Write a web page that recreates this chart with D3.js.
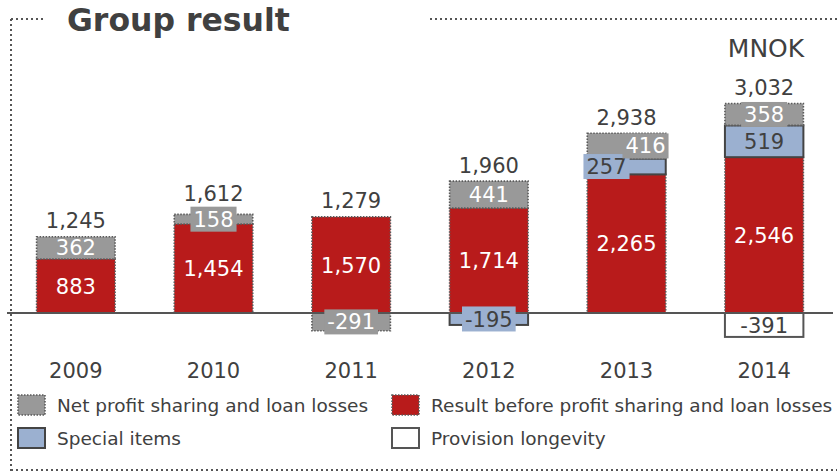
<!DOCTYPE html>
<html>
<head>
<meta charset="utf-8">
<script src="https://cdn.jsdelivr.net/npm/d3@7/dist/d3.min.js"></script>
<style>
  html, body { margin: 0; padding: 0; background: #fff; }
  svg { display: block; font-family: "DejaVu Sans", Verdana, sans-serif; }
</style>
</head>
<body>
<svg id="chart" width="837" height="473"></svg>
<script>
// Group result, MNOK
const years = ["2009", "2010", "2011", "2012", "2013", "2014"];
const resultBefore = [883, 1454, 1570, 1714, 2265, 2546];   // Result before profit sharing and loan losses
const specialItems = [0, 0, 0, -195, 257, 519];             // Special items
const netProfitSharing = [362, 158, -291, 441, 416, 358];   // Net profit sharing and loan losses
const provisionLongevity = [0, 0, 0, 0, 0, -391];           // Provision longevity
const totals = [1245, 1612, 1279, 1960, 2938, 3032];

// horizontal nudges for labels that would collide (2013)
const specialLabelShift = [0, 0, 0, 0, -20, 0];
const netLabelShift = [0, 0, 0, 0, 19, 0];

const svg = d3.select("#chart");
const textColor = "#404040";
const labelSize = 21;

const series = [
  { key: "result", name: "Result before profit sharing and loan losses", values: resultBefore,
    fill: "#B81B1B", stroke: "#5a5a5a", dash: "1.5,1.5", sw: 1.6, text: "#fff", shift: years.map(() => 0) },
  { key: "special", name: "Special items", values: specialItems,
    fill: "#9BB0D0", stroke: "#444", dash: null, sw: 2, text: textColor, shift: specialLabelShift },
  { key: "net", name: "Net profit sharing and loan losses", values: netProfitSharing,
    fill: "#999999", stroke: "#5a5a5a", dash: "1.5,1.5", sw: 1.6, text: "#fff", shift: netLabelShift },
  { key: "prov", name: "Provision longevity", values: provisionLongevity,
    fill: "#ffffff", stroke: "#555", dash: null, sw: 2, text: textColor, shift: years.map(() => 0) }
];

const x = d3.scaleBand().domain(years).range([7, 833]).paddingInner(0.43).paddingOuter(0.215);
const y = d3.scaleLinear().domain([-500, 3500]).range([313 + 500 * 0.0612, 313 - 3500 * 0.0612]);

// stack positives upward and negatives downward
const segments = [];
years.forEach((yr, i) => {
  let pos = 0, neg = 0;
  series.forEach(s => {
    const v = s.values[i];
    if (!v) return;
    let y0, y1;
    if (v > 0) { y0 = pos; y1 = pos + v; pos = y1; }
    else { y0 = neg; y1 = neg + v; neg = y1; }
    segments.push({ year: yr, i, s, v, y0, y1 });
  });
});

// frame
const frame = svg.append("g").attr("stroke", "#555").attr("stroke-width", 2)
  .attr("stroke-dasharray", "2,3").attr("fill", "none");
frame.append("line").attr("x1", 11).attr("y1", 19).attr("x2", 46).attr("y2", 19);
frame.append("line").attr("x1", 430).attr("y1", 19).attr("x2", 837).attr("y2", 19);
frame.append("line").attr("x1", 11).attr("y1", 19).attr("x2", 11).attr("y2", 473);
frame.append("line").attr("x1", 11).attr("y1", 470).attr("x2", 837).attr("y2", 470);

svg.append("text").attr("x", 67).attr("y", 31)
  .attr("font-size", 31.5).attr("font-weight", "bold").attr("fill", textColor)
  .text("Group result");

svg.append("text").attr("x", 766).attr("y", 57).attr("text-anchor", "middle")
  .attr("font-size", 25).attr("fill", textColor).text("MNOK");

// bars
const bars = svg.append("g");
bars.selectAll("rect").data(segments).join("rect")
  .attr("x", d => x(d.year))
  .attr("width", x.bandwidth())
  .attr("y", d => y(Math.max(d.y0, d.y1)))
  .attr("height", d => Math.abs(y(d.y0) - y(d.y1)))
  .attr("fill", d => d.s.fill)
  .attr("stroke", d => d.s.stroke)
  .attr("stroke-width", d => d.s.sw)
  .attr("stroke-dasharray", d => d.s.dash);

// baseline
svg.append("line").attr("x1", 7).attr("x2", 833).attr("y1", y(0)).attr("y2", y(0))
  .attr("stroke", "#555").attr("stroke-width", 2);

// segment labels; thin segments get a filled label box
const fmt = v => d3.format(",")(v).replace("\u2212", "-");
const labels = svg.append("g").attr("font-size", labelSize).attr("text-anchor", "middle");
const topOfLabels = years.map(() => Infinity);
segments.forEach(d => {
  const cx = x(d.year) + x.bandwidth() / 2 + d.s.shift[d.i];
  const cy = (y(d.y0) + y(d.y1)) / 2;
  const segH = Math.abs(y(d.y0) - y(d.y1));
  const t = labels.append("text").attr("x", cx).attr("y", cy).attr("dy", "0.36em")
    .attr("fill", d.s.text).text(fmt(d.v));
  if (d.s.key !== "result" && (segH < 22 || d.s.shift[d.i] !== 0)) {
    const bb = t.node().getBBox();
    labels.insert("rect", () => t.node())
      .attr("x", bb.x - 3).attr("width", bb.width + 6)
      .attr("y", cy - 12.5).attr("height", 25)
      .attr("fill", d.s.fill);
    topOfLabels[d.i] = Math.min(topOfLabels[d.i], cy - 12.5);
  }
});

// totals above each stack
const tops = years.map((yr, i) => series.reduce((a, s) => a + Math.max(0, s.values[i]), 0));
svg.append("g").selectAll("text").data(years).join("text")
  .attr("x", d => x(d) + x.bandwidth() / 2)
  .attr("y", (d, i) => Math.min(y(tops[i]) - 16, topOfLabels[i] - 13))
  .attr("dy", "0.36em")
  .attr("text-anchor", "middle").attr("font-size", labelSize).attr("fill", textColor)
  .text((d, i) => fmt(totals[i]));

// year axis labels
const axis = d3.axisBottom(x).tickSize(0).tickPadding(0);
const ax = svg.append("g").attr("transform", "translate(0,363)").call(axis);
ax.select(".domain").remove();
ax.selectAll("text").attr("font-size", labelSize).attr("fill", textColor)
  .attr("font-family", "DejaVu Sans, Verdana, sans-serif");

// legend
const legendItems = [
  { s: series[2], lx: 18, ly: 395 },
  { s: series[0], lx: 392, ly: 395 },
  { s: series[1], lx: 18, ly: 428 },
  { s: series[3], lx: 392, ly: 428 }
];
const lg = svg.append("g");
legendItems.forEach(it => {
  lg.append("rect").attr("x", it.lx).attr("y", it.ly).attr("width", 27).attr("height", 20)
    .attr("fill", it.s.fill).attr("stroke", it.s.stroke).attr("stroke-width", it.s.sw)
    .attr("stroke-dasharray", it.s.dash);
  lg.append("text").attr("x", it.lx + 39).attr("y", it.ly + 10.5).attr("dy", "0.36em")
    .attr("font-size", 18.5).attr("fill", textColor).text(it.s.name);
});
</script>
</body>
</html>
